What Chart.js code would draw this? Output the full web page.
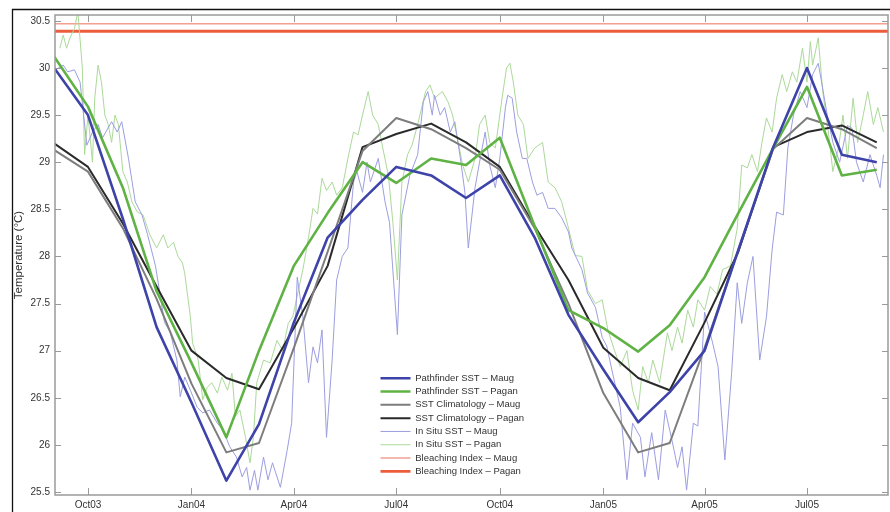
<!DOCTYPE html>
<html><head><meta charset="utf-8">
<script src="https://cdn.jsdelivr.net/npm/chart.js@4.4.0/dist/chart.umd.min.js"></script>
<style>
html,body{margin:0;padding:0;background:#fff;}
#wrap{position:relative;width:890px;height:512px;}
</style></head><body>
<div id="wrap"><canvas id="c" width="890" height="512"></canvas></div>
<script>
// ---- data ----
const monthDates = ['2003-09-01','2003-10-01','2003-11-01','2003-12-01','2004-01-01','2004-02-01','2004-03-01','2004-04-01','2004-05-01','2004-06-01','2004-07-01','2004-08-01','2004-09-01','2004-10-01','2004-11-01','2004-12-01','2005-01-01','2005-02-01','2005-03-01','2005-04-01','2005-05-01','2005-06-01','2005-07-01','2005-08-01','2005-09-01'];
const pathfinderMaug = [30.0,29.5,28.4,27.25,26.45,25.62,26.22,27.3,28.2,28.6,28.95,28.86,28.62,28.86,28.2,27.38,26.8,26.24,26.56,27.0,28.07,29.16,30.0,29.08,29.0];
const pathfinderPagan = [30.12,29.59,28.73,27.63,26.87,26.08,27.0,27.9,28.46,29.0,28.78,29.04,28.97,29.26,28.32,27.43,27.24,26.99,27.27,27.78,28.46,29.15,29.8,28.86,28.92];
const climMaug = [29.13,28.9,28.3,27.55,26.65,25.92,26.02,27.03,28.05,29.12,29.47,29.35,29.15,28.92,28.3,27.5,26.55,25.92,26.02,27.03,28.07,29.14,29.47,29.35,29.15];
const climPagan = [29.2,28.95,28.35,27.68,27.0,26.71,26.59,27.24,27.9,29.16,29.3,29.41,29.21,28.95,28.32,27.75,27.03,26.71,26.58,27.3,28.05,29.16,29.32,29.39,29.21];
// in situ: [days since 2003-10-01, temperature]
const inSituMaug = [[-29,29.98],[-22,30.03],[-18,29.96],[-12,29.98],[-7,29.85],[-1,29.18],[4,29.32],[9,29.4],[13,29.26],[21,29.43],[26,29.32],[30,29.43],[36,29.04],[42,28.58],[48,28.44],[53,28.23],[60,27.9],[64,27.6],[68,27.3],[73,27.2],[79,26.9],[82,26.51],[86,26.72],[91,26.58],[97,26.4],[102,26.34],[108,26.37],[115,26.23],[120,26.16],[126,25.98],[132,25.87],[137,25.66],[141,25.76],[144,25.52],[148,25.73],[151,25.52],[156,25.87],[160,25.63],[164,25.81],[171,25.55],[177,25.94],[181,26.23],[186,27.78],[191,27.36],[196,26.66],[200,27.04],[204,26.87],[208,27.22],[212,26.08],[217,26.9],[221,27.75],[226,28.0],[231,28.09],[236,28.79],[239,28.9],[244,28.68],[248,29.0],[251,28.79],[258,29.04],[264,28.58],[268,28.36],[275,27.17],[279,28.44],[286,28.86],[293,29.08],[298,29.64],[302,29.75],[306,29.5],[308,29.71],[313,29.5],[317,29.58],[322,29.32],[326,29.43],[331,29.04],[335,28.68],[338,28.09],[344,28.73],[348,29.0],[353,29.32],[357,28.97],[362,28.73],[366,29.04],[371,29.58],[373,29.71],[377,29.68],[381,29.32],[386,29.04],[390,29.04],[395,28.79],[399,28.65],[404,28.68],[409,28.51],[415,28.51],[421,28.41],[427,28.26],[430,28.09],[439,27.86],[444,27.61],[451,27.46],[457,27.14],[461,27.05],[467,26.72],[473,26.4],[479,25.63],[484,26.23],[491,26.08],[495,25.66],[501,26.13],[507,25.63],[513,26.37],[519,26.05],[524,25.76],[528,25.98],[532,25.52],[538,26.23],[542,26.2],[548,27.41],[555,27.09],[560,26.83],[566,25.84],[572,26.76],[577,27.72],[581,27.29],[586,27.72],[591,28.0],[597,26.9],[603,27.36],[608,28.07],[612,28.47],[618,28.44],[622,29.15],[627,29.5],[633,29.75],[639,29.58],[644,29.93],[649,30.05],[652,29.85],[657,29.5],[662,29.21],[668,29.0],[675,29.39],[679,29.36],[683,29.0],[689,28.79],[695,29.08],[701,28.86],[704,28.73],[707,29.08]];
const inSituPagan = [[-25,30.21],[-22,30.35],[-19,30.21],[-16,30.32],[-12,30.42],[-9,30.6],[-5,30.0],[-3,29.08],[0,29.5],[4,29.0],[6,29.68],[9,30.03],[12,29.85],[15,29.5],[18,29.4],[21,29.21],[24,29.5],[27,29.4],[31,28.9],[35,28.79],[39,28.58],[44,28.47],[49,28.44],[55,28.23],[61,28.09],[67,28.23],[71,28.09],[76,28.15],[80,28.0],[84,27.93],[86,27.82],[91,27.36],[93,27.08],[98,26.9],[102,26.48],[106,26.61],[110,26.66],[115,26.55],[119,26.72],[124,26.58],[128,26.76],[131,26.3],[135,26.37],[140,26.08],[144,25.81],[147,26.08],[150,26.66],[156,26.9],[162,26.87],[168,27.11],[173,27.0],[178,27.29],[182,27.36],[187,27.64],[191,27.86],[196,28.2],[200,28.51],[204,28.45],[208,28.83],[212,28.7],[217,28.79],[221,28.65],[226,28.73],[231,29.04],[236,29.32],[240,29.29],[244,29.5],[249,29.75],[253,29.5],[258,29.4],[262,29.15],[267,28.86],[271,28.36],[275,27.75],[279,28.79],[284,29.08],[288,29.18],[293,29.4],[300,29.75],[304,29.82],[308,29.68],[315,29.75],[320,29.64],[324,29.5],[329,29.21],[333,28.97],[338,28.79],[344,29.04],[348,29.4],[353,29.5],[357,29.21],[362,29.15],[368,29.68],[372,30.0],[375,30.05],[378,29.85],[382,29.5],[387,29.4],[391,29.04],[397,29.15],[404,29.21],[409,28.79],[415,28.73],[421,28.58],[427,28.3],[433,28.01],[439,28.0],[444,27.64],[451,27.5],[457,27.54],[462,27.22],[468,27.0],[473,26.83],[479,27.0],[484,26.58],[489,26.37],[493,26.83],[498,26.66],[502,26.9],[508,26.66],[515,27.19],[519,27.0],[524,27.25],[528,27.08],[533,27.43],[538,27.25],[542,27.54],[548,27.43],[553,27.68],[559,27.6],[564,27.86],[571,27.9],[577,28.3],[581,28.97],[586,28.94],[590,29.08],[595,28.9],[599,29.21],[603,29.47],[608,29.32],[612,29.68],[617,29.93],[621,29.75],[626,29.96],[630,29.85],[635,30.21],[639,29.85],[642,30.28],[644,30.03],[649,30.32],[653,29.75],[658,29.32],[662,28.9],[667,29.15],[671,29.5],[675,29.04],[680,29.68],[684,29.21],[689,29.5],[693,29.75],[698,29.4],[702,29.58],[707,29.32]];
const bleachDates = ['2003-09-01','2005-09-15'];
const bleachMaug = [30.47, 30.47];
const bleachPagan = [30.39, 30.39];
const xTickDates = ['2003-10-01','2004-01-01','2004-04-01','2004-07-01','2004-10-01','2005-01-01','2005-04-01','2005-07-01'];
const xTickLabels = ['Oct03','Jan04','Apr04','Jul04','Oct04','Jan05','Apr05','Jul05'];
const yTicks = [25.5,26,26.5,27,27.5,28,28.5,29,29.5,30,30.5];
const yTickLabels = ['25.5','26','26.5','27','27.5','28','28.5','29','29.5','30','30.5'];
const seriesLabels = ['Pathfinder SST \u2013 Maug','Pathfinder SST \u2013 Pagan','SST Climatology \u2013 Maug','SST Climatology \u2013 Pagan','In Situ SST \u2013 Maug','In Situ SST \u2013 Pagan','Bleaching Index \u2013 Maug','Bleaching Index \u2013 Pagan'];

// ---- helpers ----
const EPOCH = Date.UTC(2003, 9, 1);
const dayOf = s => { const [y, m, d] = s.split('-').map(Number); return (Date.UTC(y, m - 1, d) - EPOCH) / 86400000; };
const FONT = '"Liberation Sans Narrow","Liberation Sans",Arial,sans-serif';
const mk = (label, pts, color, width) => ({
  label, data: pts, borderColor: color, backgroundColor: color, borderWidth: width,
  pointRadius: 0, pointHoverRadius: 0, tension: 0, fill: false, borderJoinStyle: 'round'
});
const monthPts = vals => monthDates.map((d, i) => ({x: dayOf(d), y: vals[i]}));
const pairPts = arr => arr.map(p => ({x: p[0], y: p[1]}));
const bleachPts = vals => bleachDates.map((d, i) => ({x: dayOf(d), y: vals[i]}));

const datasets = [
  mk(seriesLabels[0], monthPts(pathfinderMaug), '#3d43a8', 2.6),
  mk(seriesLabels[1], monthPts(pathfinderPagan), '#5fb244', 2.6),
  mk(seriesLabels[2], monthPts(climMaug), '#7d7d7d', 2),
  mk(seriesLabels[3], monthPts(climPagan), '#2a2a2a', 2),
  mk(seriesLabels[4], pairPts(inSituMaug), '#9c9ee0', 1),
  mk(seriesLabels[5], pairPts(inSituPagan), '#acd99a', 1),
  mk(seriesLabels[6], bleachPts(bleachMaug), '#f2a092', 1.6),
  mk(seriesLabels[7], bleachPts(bleachPagan), '#ec5d3c', 2.8)
];

const framePlugin = {
  id: 'frame',
  afterLayout(chart) {
    const lg = chart.legend;
    if (!lg) return;
    const w = lg.width;
    lg.left = 376.7; lg.right = lg.left + w;
    lg.top = 369.7; lg.bottom = lg.top + 140; lg.height = 140;
  },
  beforeDraw(chart) {
    const ctx = chart.ctx;
    ctx.save(); ctx.fillStyle = '#fff'; ctx.fillRect(0, 0, chart.width, chart.height); ctx.restore();
  },
  afterDraw(chart) {
    const {ctx, chartArea: a, scales: {x, y}} = chart;
    ctx.save();
    ctx.strokeStyle = '#9a9a9a';
    ctx.lineWidth = 1.5;
    ctx.strokeRect(a.left, a.top, a.right - a.left, a.bottom - a.top);
    ctx.lineWidth = 1;
    ctx.beginPath();
    y.ticks.forEach(t => {
      const p = Math.round(y.getPixelForValue(t.value)) + 0.5;
      ctx.moveTo(a.left, p); ctx.lineTo(a.left + 6, p);
      ctx.moveTo(a.right, p); ctx.lineTo(a.right - 6, p);
    });
    x.ticks.forEach(t => {
      const p = Math.round(x.getPixelForValue(t.value)) + 0.5;
      ctx.moveTo(p, a.bottom); ctx.lineTo(p, a.bottom - 7);
      ctx.moveTo(p, a.top); ctx.lineTo(p, a.top + 7);
    });
    ctx.stroke();
    ctx.strokeStyle = '#111';
    ctx.lineWidth = 1.3;
    ctx.beginPath();
    ctx.moveTo(12.5, chart.height); ctx.lineTo(12.5, 9.5); ctx.lineTo(chart.width, 9.5);
    ctx.stroke();
    ctx.restore();
  }
};

new Chart(document.getElementById('c'), {
  type: 'line',
  data: {datasets},
  plugins: [framePlugin],
  options: {
    responsive: false,
    animation: false,
    devicePixelRatio: 1,
    events: [],
    layout: {padding: {left: 0, top: 15, right: 2, bottom: 0}},
    plugins: {
      tooltip: {enabled: false},
      legend: {
        position: 'chartArea',
        align: 'start',
        labels: {
          usePointStyle: true,
          pointStyleWidth: 30,
          padding: 3.8,
          color: '#333',
          font: {family: FONT, size: 9.5},
          generateLabels: chart => chart.data.datasets.map((ds, i) => ({
            text: ds.label, strokeStyle: ds.borderColor, fillStyle: ds.borderColor,
            lineWidth: ds.borderWidth, pointStyle: 'line', datasetIndex: i, hidden: false, fontColor: '#333'
          }))
        }
      }
    },
    scales: {
      x: {
        type: 'linear', min: -29.3, max: 711,
        afterBuildTicks: s => { s.ticks = xTickDates.map(d => ({value: dayOf(d)})); },
        afterFit: s => { s.height = 17; },
        grid: {display: false, drawTicks: false},
        border: {display: false},
        ticks: {autoSkip: false, maxRotation: 0, padding: 4, color: '#333', font: {family: FONT, size: 10},
          callback: (v, i) => xTickLabels[i]}
      },
      y: {
        type: 'linear', min: 25.468, max: 30.5625,
        afterBuildTicks: s => { s.ticks = yTicks.map(v => ({value: v})); },
        afterFit: s => { s.width = 55; },
        grid: {display: false, drawTicks: false},
        border: {display: false},
        ticks: {padding: 5, color: '#333', font: {family: FONT, size: 10},
          callback: (v, i) => yTickLabels[i]},
        title: {display: true, text: 'Temperature (\u00b0C)', color: '#333', font: {family: FONT, size: 11.5}, padding: {top: 11.6, bottom: 0}}
      }
    }
  }
});
</script>
</body></html>
